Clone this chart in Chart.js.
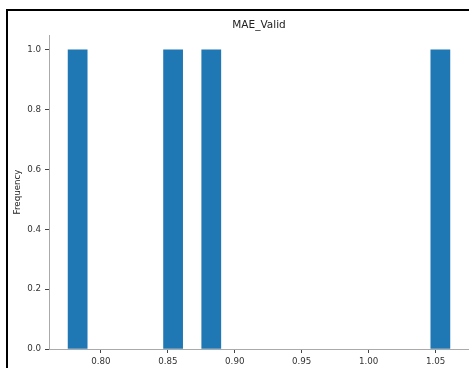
<!DOCTYPE html>
<html>
<head>
<meta charset="utf-8">
<script src="https://cdn.jsdelivr.net/npm/chart.js@4.4.1/dist/chart.umd.min.js"></script>
<style>
  html, body { margin: 0; padding: 0; background: #fff; }
  #wrap { width: 469px; height: 368px; }
</style>
</head>
<body>
<div id="wrap"><canvas id="c" width="469" height="368"></canvas></div>
<script>
// Validation MAE of the runs
const maeValid = [0.7755, 0.852, 0.880, 1.0607];
const binCount = 20;
const xTickValues = [0.80, 0.85, 0.90, 0.95, 1.00, 1.05];
const yTickValues = [0.0, 0.2, 0.4, 0.6, 0.8, 1.0];
const chartTitle = 'MAE_Valid';
const yAxisTitle = 'Frequency';

// Histogram: equal-width bins between min and max
const lo = Math.min(...maeValid);
const hi = Math.max(...maeValid);
const binWidth = (hi - lo) / binCount;
const counts = new Array(binCount).fill(0);
maeValid.forEach(v => {
  let i = Math.floor((v - lo) / binWidth);
  if (i >= binCount) i = binCount - 1;
  counts[i] += 1;
});
// empty bins keep their slot (for the bar width) but draw nothing
const histPoints = counts.map((c, i) => ({ x: lo + (i + 0.5) * binWidth, y: c > 0 ? c : null }));
const span = hi - lo;

const FONT = 'DejaVu Sans';

const decor = {
  id: 'decor',
  afterDraw(chart) {
    const ctx = chart.ctx;
    const area = chart.chartArea;
    ctx.save();
    // figure frame
    ctx.strokeStyle = '#000';
    ctx.lineWidth = 2;
    ctx.lineCap = 'butt';
    ctx.beginPath();
    ctx.moveTo(7, 368);
    ctx.lineTo(7, 10);
    ctx.lineTo(469, 10);
    ctx.stroke();
    // title
    ctx.fillStyle = '#222';
    ctx.font = '10.5px "' + FONT + '"';
    ctx.textAlign = 'center';
    ctx.textBaseline = 'middle';
    ctx.fillText(chartTitle, (area.left + area.right) / 2, 25);
    // y axis label
    ctx.font = '8.7px "' + FONT + '"';
    ctx.translate(18, (area.top + area.bottom) / 2);
    ctx.rotate(-Math.PI / 2);
    ctx.fillText(yAxisTitle, 0, 0);
    ctx.restore();
  }
};

new Chart(document.getElementById('c'), {
  type: 'bar',
  data: {
    datasets: [{
      data: histPoints,
      backgroundColor: '#1f77b4',
      borderWidth: 0,
      barPercentage: 1.0,
      categoryPercentage: 1.0
    }]
  },
  options: {
    responsive: false,
    animation: false,
    devicePixelRatio: 1,
    layout: { padding: { top: 35, right: 0, left: 0, bottom: 0 } },
    plugins: {
      legend: { display: false },
      title: { display: false },
      tooltip: { enabled: false }
    },
    scales: {
      x: {
        type: 'linear',
        offset: false,
        min: lo - 0.05 * span,
        max: hi + 0.05 * span,
        afterBuildTicks: s => { s.ticks = xTickValues.map(v => ({ value: v })); },
        afterFit: s => { s.height = 19; },
        grid: { offset: false, drawOnChartArea: false, drawTicks: true, tickLength: 4, color: '#444', tickColor: '#444', tickWidth: 1 },
        border: { display: true, color: '#aaa', width: 1 },
        ticks: {
          autoSkip: false,
          maxRotation: 0,
          padding: 4,
          color: '#333',
          font: { family: FONT, size: 8.7 },
          callback: v => Number(v).toFixed(2)
        }
      },
      y: {
        min: 0,
        max: 1.05,
        afterBuildTicks: s => { s.ticks = yTickValues.map(v => ({ value: v })); },
        afterFit: s => { s.width = 49; },
        grid: { drawOnChartArea: false, drawTicks: true, tickLength: 4, color: '#444', tickColor: '#444', tickWidth: 1 },
        border: { display: true, color: '#aaa', width: 1 },
        ticks: {
          padding: 4,
          color: '#333',
          font: { family: FONT, size: 8.7 },
          callback: v => Number(v).toFixed(1)
        }
      }
    }
  },
  plugins: [decor]
});
</script>
</body>
</html>
